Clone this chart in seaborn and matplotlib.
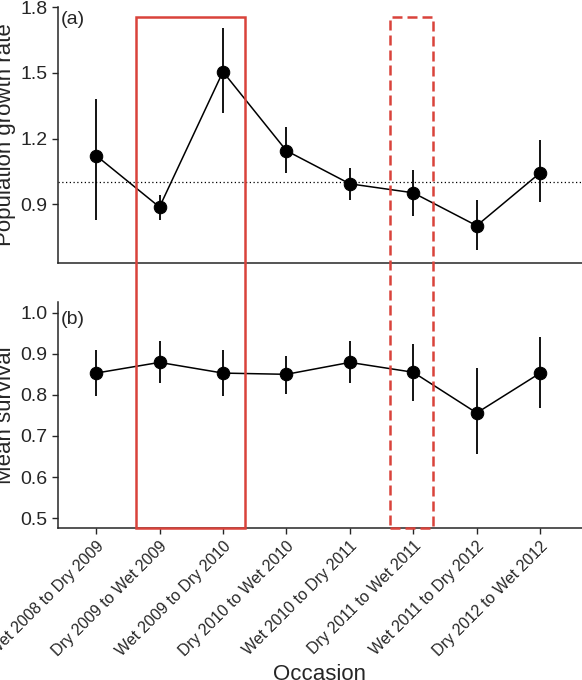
import matplotlib
matplotlib.use("Agg")
import matplotlib.pyplot as plt
from matplotlib.patches import Rectangle
import numpy as np
import pandas as pd
import seaborn as sns

occasions = ["Wet 2008 to Dry 2009", "Dry 2009 to Wet 2009", "Wet 2009 to Dry 2010",
             "Dry 2010 to Wet 2010", "Wet 2010 to Dry 2011", "Dry 2011 to Wet 2011",
             "Wet 2011 to Dry 2012", "Dry 2012 to Wet 2012"]
growth = [1.123, 0.888, 1.505, 1.145, 0.994, 0.953, 0.803, 1.044]
growth_lo = [0.827, 0.827, 1.315, 1.042, 0.920, 0.848, 0.690, 0.912]
growth_hi = [1.379, 0.944, 1.703, 1.252, 1.067, 1.057, 0.920, 1.194]
surv = [0.853, 0.879, 0.853, 0.850, 0.879, 0.855, 0.756, 0.853]
surv_lo = [0.797, 0.830, 0.798, 0.801, 0.828, 0.785, 0.656, 0.768]
surv_hi = [0.908, 0.930, 0.909, 0.895, 0.930, 0.925, 0.865, 0.940]

sns.set_style("ticks")
plt.rcParams['font.family'] = ['Liberation Sans', 'DejaVu Sans']

fig = plt.figure(figsize=(5.82, 6.8), dpi=100)
ax1 = fig.add_axes([58/582, 1-263/680, 524/582, 256/680])
ax2 = fig.add_axes([58/582, 1-528/680, 524/582, 226/680])

x = np.arange(len(occasions))
df = pd.DataFrame({"x": x, "growth": growth, "surv": surv})

for ax, col, lo, hi in [(ax1, "growth", growth_lo, growth_hi), (ax2, "surv", surv_lo, surv_hi)]:
    ax.vlines(x, lo, hi, color="black", lw=1.3)
    sns.lineplot(data=df, x="x", y=col, ax=ax, color="black", lw=1.1,
                 marker="o", markersize=9, markeredgecolor="black")
    ax.set_xlim(-0.6, 7.66)
    ax.set_xticks(x)
    sns.despine(ax=ax)
    ax.tick_params(labelsize=14, width=1, length=4)
    ax.spines['left'].set_linewidth(1.1)
    ax.spines['bottom'].set_linewidth(1.1)

ax1.axhline(1.0, color="black", ls=(0, (1, 2)), lw=0.9)
ax1.set_ylim(0.633, 1.8)
ax1.set_yticks([0.9, 1.2, 1.5, 1.8])
ax1.tick_params(axis='x', length=0, labelbottom=False)
ax1.set_xlabel("")
ax1.set_ylabel("Population growth rate", fontsize=16, labelpad=3)
ax1.text(0.005, 0.985, "(a)", transform=ax1.transAxes, fontsize=14, va="top")

ax2.set_ylim(0.476, 1.026)
ax2.set_yticks([0.5, 0.6, 0.7, 0.8, 0.9, 1.0])
ax2.set_yticklabels(["0.5", "0.6", "0.7", "0.8", "0.9", "1.0"])
ax2.set_xticklabels(occasions, rotation=45, ha="right", rotation_mode="anchor", fontsize=11.5)
ax2.set_xlabel("Occasion", fontsize=16)
ax2.set_ylabel("Mean survival", fontsize=16, labelpad=3)
ax2.text(0.005, 0.96, "(b)", transform=ax2.transAxes, fontsize=14, va="top")

red = "#d9433b"
fig.patches.append(Rectangle((136/582, 1-528/680), 109/582, 511/680, transform=fig.transFigure,
                             fill=False, edgecolor=red, lw=1.8, zorder=10))
fig.patches.append(Rectangle((390/582, 1-528/680), 43/582, 511/680, transform=fig.transFigure,
                             fill=False, edgecolor=red, lw=1.8, ls=(0, (4, 2)), zorder=10))

fig.savefig("out.png", dpi=100)
